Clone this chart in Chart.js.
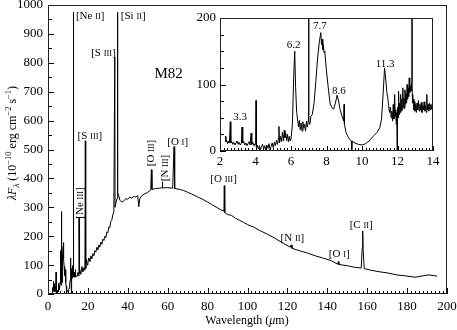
<!DOCTYPE html>
<html>
<head>
<meta charset="utf-8">
<script src="https://cdn.jsdelivr.net/npm/chart.js@4.4.1/dist/chart.umd.min.js"></script>
<style>
html, body { margin: 0; padding: 0; background: #fff; }
#wrap { position: relative; width: 457px; height: 330px; }
#main { position: absolute; left: 0; top: 0; }
#inset { position: absolute; left: 190px; top: 6px; }
</style>
</head>
<body>
<div id="wrap">
<canvas id="main" width="457" height="330"></canvas>
<canvas id="inset" width="250" height="166"></canvas>
</div>
<script>
// M82 spectrum: wavelength (micron) / lambda*F_lambda (1e-10 erg cm-2 s-1)
// 2.3 - 6 micron
const waveA = [
    2.30, 2.33, 2.38, 2.43, 2.48, 2.53, 2.58, 2.61, 2.66, 2.72, 2.78, 2.84, 2.90, 2.96, 3.02, 3.08, 3.14, 3.20, 3.24, 3.28,
    3.34, 3.40, 3.46, 3.52, 3.58, 3.64, 3.70, 3.75, 3.79, 3.85, 3.91, 3.97, 4.01, 4.03, 4.05, 4.10, 4.16, 4.22, 4.28, 4.34,
    4.40, 4.46, 4.52, 4.58, 4.64, 4.70, 4.76, 4.82, 4.88, 4.94, 5.00, 5.06, 5.12, 5.18, 5.24, 5.30, 5.32, 5.35, 5.40, 5.46,
    5.52, 5.57, 5.62, 5.66, 5.70, 5.75, 5.80, 5.85, 5.90, 5.95, 6.00
];
const fluxA = [
    22, 14, 16, 11, 15, 12, 44, 12, 14, 10, 13, 9, 12, 15, 10, 13, 9, 11, 36, 12,
    14, 9, 12, 8, 11, 14, 9, 27, 10, 13, 8, 11, 10, 76, 6, 9, 3, 8, 2, 7,
    10, 3, 8, 1, 9, 4, 11, 2, 7, 12, 5, 13, 8, 16, 10, 20, 37, 12, 22, 14,
    28, 15, 31, 20, 27, 16, 25, 14, 22, 15, 18
];
// 6 - 11.4 micron (PAH bands)
const waveB = [
    6.08, 6.15, 6.21, 6.26, 6.32, 6.37, 6.42, 6.47, 6.52, 6.57, 6.62, 6.67, 6.72, 6.77, 6.82, 6.87, 6.92, 6.97, 6.99, 7.01,
    7.06, 7.12, 7.20, 7.30, 7.40, 7.50, 7.60, 7.68, 7.72, 7.75, 7.79, 7.82, 7.86, 7.90, 8.00, 8.10, 8.20, 8.30, 8.40, 8.50,
    8.60, 8.68, 8.77, 8.88, 8.97, 8.99, 9.01, 9.10, 9.20, 9.30, 9.40, 9.42, 9.45, 9.60, 9.80, 10.00, 10.20, 10.40, 10.55, 10.70,
    10.85, 11.00, 11.10, 11.20, 11.27, 11.35, 11.40
];
const fluxB = [
    40, 110, 150, 95, 58, 48, 36, 46, 32, 42, 30, 44, 34, 40, 30, 45, 36, 45, 285, 45,
    40, 52, 55, 72, 105, 140, 165, 178, 160, 168, 152, 160, 148, 150, 120, 95, 72, 65, 63, 72,
    84, 75, 62, 52, 45, 70, 40, 28, 22, 18, 15, 0, 15, 12, 10, 9, 11, 15, 20, 24,
    28, 35, 48, 90, 125, 105, 88
];
// 11.4 - 14 micron
const waveC = [
    11.45, 11.50, 11.55, 11.60, 11.64, 11.68, 11.72, 11.76, 11.80, 11.84, 11.87, 11.90, 11.93, 11.96, 11.98, 12.00, 12.03, 12.06, 12.09, 12.12,
    12.15, 12.18, 12.21, 12.24, 12.27, 12.30, 12.33, 12.36, 12.39, 12.42, 12.45, 12.48, 12.51, 12.54, 12.57, 12.60, 12.63, 12.66, 12.69, 12.72,
    12.76, 12.79, 12.81, 12.83, 12.86, 12.89, 12.92, 12.95, 12.98, 13.02, 13.06, 13.10, 13.14, 13.18, 13.22, 13.26, 13.30, 13.34, 13.38, 13.42,
    13.46, 13.50, 13.54, 13.58, 13.62, 13.65, 13.68, 13.72, 13.76, 13.80, 13.84, 13.88, 13.92, 13.96, 14.00
];
const fluxC = [
    80, 68, 58, 66, 50, 60, 45, 70, 48, 85, 52, 62, 40, 58, -10, 66, 50, 90, 55, 72,
    58, 85, 60, 78, 62, 95, 66, 80, 64, 92, 70, 86, 72, 100, 78, 95, 82, 110, 88, 98,
    90, 102, 975, 85, 72, 78, 62, 74, 60, 70, 58, 72, 62, 76, 60, 70, 62, 73, 58, 68,
    62, 74, 60, 68, 58, 85, 62, 70, 60, 72, 62, 70, 63, 71, 66
];
// 14.5 - 45.5 micron
const waveD = [
    14.5, 15.0, 15.5, 15.55, 15.6, 16.0, 16.5, 17.0, 17.5, 18.0, 18.5, 18.71, 18.9, 19.3, 19.7, 20.0, 20.5, 21.0, 21.5, 22.0,
    22.5, 23.0, 23.5, 24.0, 24.5, 25.0, 25.5, 26.0, 26.5, 27.0, 27.5, 28.0, 28.5, 29.0, 29.5, 30.0, 30.5, 31.0, 31.5, 32.0,
    32.5, 33.0, 33.48, 33.6, 34.2, 34.6, 34.81, 35.0, 35.3, 36.0, 37.0, 38.0, 39.0, 40.0, 41.0, 42.0, 43.0, 44.0, 45.0, 45.5
];
const fluxD = [
    60, 75, 62, 265, 70, 88, 68, 95, 76, 92, 82, 530, 88, 120, 100, 108, 125, 112, 132, 122,
    140, 132, 150, 145, 162, 152, 170, 162, 180, 172, 190, 185, 200, 195, 215, 212, 232, 230, 252, 255,
    275, 285, 820, 300, 320, 330, 975, 350, 345, 325, 318, 322, 330, 328, 335, 332, 338, 335, 340, 302
];
// 46 - 195 micron
const waveE = [
    46.0, 47.0, 48.0, 50.0, 51.5, 51.81, 52.1, 54.0, 56.0, 57.2, 57.32, 57.5, 60.0, 62.5, 63.18, 63.5, 66.0, 68.0, 70.0, 72.0,
    75.0, 78.0, 80.0, 82.0, 85.0, 87.0, 88.2, 88.36, 88.6, 90.0, 92.0, 94.0, 96.0, 98.0, 100.0, 103.0, 106.0, 110.0, 114.0, 118.0,
    121.5, 121.9, 122.3, 126.0, 130.0, 134.0, 138.0, 142.0, 145.3, 145.5, 145.8, 150.0, 154.0, 157.0, 157.5, 157.74, 158.0, 158.5, 162.0, 166.0,
    170.0, 175.0, 180.0, 184.0, 188.0, 191.0, 195.0
];
const fluxE = [
    330, 340, 345, 352, 360, 430, 362, 365, 366, 368, 388, 367, 368, 366, 510, 365, 362, 358, 352, 346,
    336, 326, 318, 310, 298, 290, 287, 375, 282, 275, 272, 262, 255, 248, 240, 232, 220, 207, 192, 175,
    162, 170, 158, 150, 142, 132, 124, 115, 103, 112, 102, 98, 92, 90, 160, 218, 150, 88, 82, 77,
    73, 66, 62, 58, 63, 66, 62
];

const xTicksMain = [0, 20, 40, 60, 80, 100, 120, 140, 160, 180, 200];
const yTicksMain = [0, 100, 200, 300, 400, 500, 600, 700, 800, 900, 1000];
const xTicksInset = [2, 4, 6, 8, 10, 12, 14];
const yTicksInset = [0, 100, 200];

// line identifications, anchored in data units
const mainLabels = [
    { text: '[Ne II]', x: 14, y: 965, align: 'left' },
    { text: '[Si II]', x: 36.5, y: 965, align: 'left' },
    { text: '[S III]', x: 34, y: 837, align: 'right' },
    { text: '[S III]', x: 21, y: 550, align: 'center' },
    { text: '[Ne III]', x: 15.75, y: 315, align: 'center', rot: true },
    { text: '[O III]', x: 51, y: 488, align: 'center', rot: true },
    { text: '[N III]', x: 58, y: 436, align: 'center', rot: true },
    { text: '[O I]', x: 65, y: 529, align: 'center' },
    { text: '[O III]', x: 88, y: 402, align: 'center' },
    { text: '[N II]', x: 122.5, y: 197, align: 'center' },
    { text: '[O I]', x: 146, y: 142, align: 'center' },
    { text: '[C II]', x: 157, y: 242, align: 'center' }
];
const insetLabels = [
    { text: '3.3', x: 3.14, y: 53 },
    { text: '6.2', x: 6.15, y: 161 },
    { text: '7.7', x: 7.63, y: 189 },
    { text: '8.6', x: 8.7, y: 92 },
    { text: '11.3', x: 11.3, y: 132 }
];

const SERIF = "'Liberation Serif', 'Times New Roman', serif";
const wavelength = waveA.concat(waveB, waveC, waveD, waveE);
const flux = fluxA.concat(fluxB, fluxC, fluxD, fluxE);
const spectrum = wavelength.map((w, i) => ({ x: w, y: flux[i] }));
const spectrumShort = spectrum.filter(p => p.x <= 14);

// draw a run of text pieces with different sizes / styles
function drawRich(ctx, parts, x, y, align, angle) {
    ctx.save();
    ctx.translate(x, y);
    if (angle) ctx.rotate(angle);
    let total = 0;
    parts.forEach(p => {
        ctx.font = (p.italic ? 'italic ' : '') + p.size + 'px ' + SERIF;
        p.w = ctx.measureText(p.t).width;
        total += p.w;
    });
    let cx = align === 'left' ? 0 : align === 'right' ? -total : -total / 2;
    ctx.fillStyle = '#000';
    ctx.textBaseline = 'alphabetic';
    ctx.textAlign = 'left';
    parts.forEach(p => {
        ctx.font = (p.italic ? 'italic ' : '') + p.size + 'px ' + SERIF;
        ctx.fillText(p.t, cx, 4 + (p.dy || 0));
        cx += p.w;
    });
    ctx.restore();
}

function ionParts(text, size) {
    const m = text.match(/^(\[\w+ )([IV]+)(\])$/);
    if (!m) return [{ t: text, size: size }];
    return [{ t: m[1], size: size }, { t: m[2], size: size - 2.5 }, { t: m[3], size: size }];
}

function tickSet(list) {
    return v => list.includes(v) ? v : null;
}

const inwardTicks = {
    id: 'inwardTicks',
    afterDatasetsDraw(chart, args, opts) {
        const ctx = chart.ctx, a = chart.chartArea;
        ctx.save();
        ctx.strokeStyle = '#000';
        ctx.lineWidth = 1;
        opts.list.forEach(t => {
            const s = chart.scales[t.axis];
            const n = Math.round((s.max - s.min) / t.step);
            for (let i = 0; i <= n; i++) {
                const v = s.min + i * t.step;
                const r = v / t.major;
                const len = Math.abs(r - Math.round(r)) < 1e-6 ? t.long : t.short;
                const p = Math.round(s.getPixelForValue(v)) + 0.5;
                ctx.beginPath();
                if (t.axis === 'x') { ctx.moveTo(p, a.bottom); ctx.lineTo(p, a.bottom - len); }
                else { ctx.moveTo(a.left, p); ctx.lineTo(a.left + len, p); }
                ctx.stroke();
            }
        });
        ctx.strokeStyle = '#222';
        ctx.strokeRect(Math.round(a.left) + 0.5, Math.round(a.top) + 0.5,
            Math.round(a.right - a.left) - 1, Math.round(a.bottom - a.top) - 1);
        ctx.restore();
    }
};

const annotations = {
    id: 'annotations',
    afterDraw(chart, args, opts) {
        const ctx = chart.ctx;
        const xs = chart.scales.x, ys = chart.scales.y;
        opts.labels.forEach(l => {
            const px = xs.getPixelForValue(l.x), py = ys.getPixelForValue(l.y);
            drawRich(ctx, ionParts(l.text, opts.size), px, py, l.align || 'center', l.rot ? -Math.PI / 2 : 0);
        });
        if (opts.extra) opts.extra(chart);
    }
};

function axisOptions(min, max, step, ticks, pad, fit) {
    return {
        type: 'linear', min: min, max: max,
        grid: { display: false, drawTicks: false },
        border: { display: false },
        ticks: {
            stepSize: step, autoSkip: false, maxRotation: 0, padding: pad,
            color: '#000', font: { family: SERIF, size: 13 },
            callback: tickSet(ticks)
        },
        afterFit: fit
    };
}

// main chart
new Chart(document.getElementById('main').getContext('2d'), {
    type: 'line',
    data: {
        datasets: [{
            data: spectrum,
            borderColor: '#000',
            borderWidth: 1,
            pointRadius: 0,
            tension: 0
        }]
    },
    options: {
        responsive: false,
        animation: false,
        layout: { padding: { top: 5, right: 10, left: 0, bottom: 0 } },
        scales: {
            x: axisOptions(0, 200, 20, xTicksMain, 5, s => { s.height = 36; s.paddingLeft = 0; s.paddingRight = 0; }),
            y: axisOptions(0, 1000, 100, yTicksMain, 5, s => { s.width = 48; s.paddingTop = 0; s.paddingBottom = 0; })
        },
        plugins: {
            legend: { display: false },
            tooltip: { enabled: false },
            inwardTicks: { list: [
                { axis: 'x', step: 2, major: 20, long: 6, short: 3 },
                { axis: 'y', step: 50, major: 100, long: 6, short: 4 }
            ] },
            annotations: {
                labels: mainLabels, size: 11,
                extra(chart) {
                    const ctx = chart.ctx;
                    drawRich(ctx, [{ t: 'M82', size: 15 }],
                        chart.scales.x.getPixelForValue(60.5), chart.scales.y.getPixelForValue(765) + 1, 'center', 0);
                    drawRich(ctx, [
                        { t: 'Wavelength (', size: 12 },
                        { t: 'μ', size: 12, italic: true },
                        { t: 'm)', size: 12 }
                    ], 247, 320, 'center', 0);
                    drawRich(ctx, [
                        { t: 'λF', size: 12, italic: true },
                        { t: 'λ', size: 9, italic: true, dy: 3 },
                        { t: ' (10', size: 12 },
                        { t: '−10', size: 8.5, dy: -5 },
                        { t: ' erg cm', size: 12 },
                        { t: '−2', size: 8.5, dy: -5 },
                        { t: ' s', size: 12 },
                        { t: '−1', size: 8.5, dy: -5 },
                        { t: ')', size: 12 }
                    ], 12, 143, 'center', -Math.PI / 2);
                }
            }
        }
    },
    plugins: [inwardTicks, annotations]
});

// inset: 2-14 micron
new Chart(document.getElementById('inset').getContext('2d'), {
    type: 'line',
    data: {
        datasets: [{
            data: spectrumShort,
            borderColor: '#000',
            borderWidth: 1,
            pointRadius: 0,
            tension: 0
        }]
    },
    options: {
        responsive: false,
        animation: false,
        layout: { padding: { top: 12, right: 7, left: 0, bottom: 0 } },
        scales: {
            x: axisOptions(2, 14, 2, xTicksInset, 3, s => { s.height = 21; s.paddingLeft = 0; s.paddingRight = 0; }),
            y: axisOptions(0, 200, 100, yTicksInset, 4, s => { s.width = 30; s.paddingTop = 0; s.paddingBottom = 0; })
        },
        plugins: {
            legend: { display: false },
            tooltip: { enabled: false },
            inwardTicks: { list: [
                { axis: 'x', step: 0.2, major: 2, long: 5, short: 3 },
                { axis: 'y', step: 25, major: 100, long: 6, short: 4 }
            ] },
            annotations: { labels: insetLabels, size: 11 }
        }
    },
    plugins: [inwardTicks, annotations]
});
</script>
</body>
</html>
